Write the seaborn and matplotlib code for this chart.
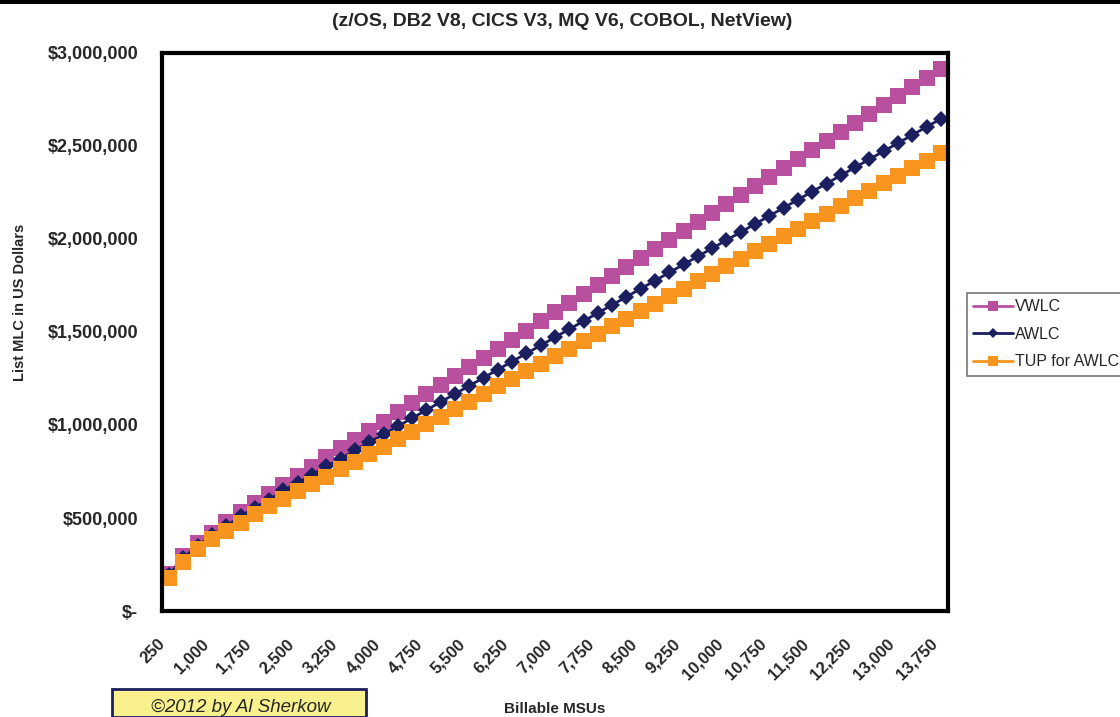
import matplotlib
matplotlib.use("Agg")
import matplotlib.pyplot as plt
import matplotlib.ticker as mticker
from matplotlib.patches import Rectangle
from matplotlib.transforms import ScaledTranslation
import seaborn as sns
import pandas as pd

msus = list(range(250, 13751, 250))

vwlc = [0.200, 0.294, 0.364, 0.421, 0.477, 0.531, 0.581, 0.629, 0.677, 0.726,
        0.776, 0.826, 0.875, 0.921, 0.967, 1.018, 1.068, 1.117, 1.167, 1.217,
        1.265, 1.314, 1.360, 1.409, 1.457, 1.507, 1.558, 1.606, 1.654, 1.703,
        1.751, 1.800, 1.848, 1.897, 1.945, 1.994, 2.042, 2.091, 2.139, 2.188,
        2.236, 2.285, 2.333, 2.382, 2.430, 2.479, 2.527, 2.576, 2.624, 2.673,
        2.721, 2.770, 2.818, 2.867, 2.915]
awlc = [0.195, 0.285, 0.352, 0.406, 0.456, 0.510, 0.555, 0.599, 0.648, 0.687,
        0.732, 0.777, 0.818, 0.863, 0.906, 0.950, 0.993, 1.037, 1.080, 1.124,
        1.167, 1.211, 1.254, 1.298, 1.341, 1.385, 1.428, 1.472, 1.515, 1.559,
        1.602, 1.646, 1.689, 1.733, 1.776, 1.820, 1.863, 1.907, 1.950, 1.994,
        2.037, 2.081, 2.124, 2.168, 2.211, 2.255, 2.298, 2.342, 2.385, 2.429,
        2.472, 2.516, 2.559, 2.603, 2.646]
tup = [0.180, 0.265, 0.332, 0.385, 0.432, 0.475, 0.521, 0.563, 0.604, 0.643,
       0.683, 0.722, 0.762, 0.803, 0.843, 0.884, 0.924, 0.965, 1.005, 1.045,
       1.086, 1.126, 1.167, 1.207, 1.248, 1.288, 1.328, 1.369, 1.409, 1.450,
       1.490, 1.531, 1.571, 1.611, 1.652, 1.692, 1.733, 1.773, 1.814, 1.854,
       1.894, 1.935, 1.975, 2.016, 2.056, 2.097, 2.137, 2.177, 2.218, 2.258,
       2.299, 2.339, 2.380, 2.420, 2.461]

series_names = ["VWLC", "AWLC", "TUP for AWLC"]
title = "(z/OS, DB2 V8, CICS V3, MQ V6, COBOL, NetView)"

df = pd.DataFrame({"MSU": msus,
                   "VWLC": [v * 1e6 for v in vwlc],
                   "AWLC": [v * 1e6 for v in awlc],
                   "TUP for AWLC": [v * 1e6 for v in tup]})

sns.set_style("white")
plt.rcParams["font.family"] = ["Liberation Sans", "DejaVu Sans"]

W, H = 1120, 717
fig = plt.figure(figsize=(W / 100, H / 100), dpi=100)
ax = fig.add_axes([162 / W, 1 - 611 / H, (948 - 162) / W, (611 - 53) / H])

styles = {
    "VWLC": dict(color="#B8509F", marker="s", markersize=12),
    "AWLC": dict(color="#1B1F60", marker="D", markersize=8.5),
    "TUP for AWLC": dict(color="#F7951F", marker="s", markersize=12),
}
for name in series_names:
    st = styles[name]
    sns.lineplot(data=df, x="MSU", y=name, ax=ax, color=st["color"],
                 marker=st["marker"], markersize=st["markersize"],
                 markeredgewidth=0, linewidth=2, label=name)

ax.set_xlim(125, 13875)
ax.set_ylim(0, 3e6)
ax.set_xticks([m - 125 for m in msus] + [msus[-1] + 125], minor=True)
ax.set_xticks(msus[::3])
ax.set_xticklabels([f"{m:,}" for m in msus[::3]], rotation=45, ha="right",
                   va="center", rotation_mode="anchor",
                   fontsize=12, fontweight="bold")
ax.tick_params(axis="x", which="major", length=0, pad=22)
ax.tick_params(axis="x", which="minor", length=6, width=1.2, direction="inout",
               color="black")
ax.set_yticks([0, 5e5, 1e6, 1.5e6, 2e6, 2.5e6, 3e6])
ax.yaxis.set_major_formatter(mticker.FuncFormatter(
    lambda v, p: "$-" if v == 0 else f"${v:,.0f}"))
ax.tick_params(axis="y", length=6, width=1.2, direction="inout", pad=14,
               color="black", labelsize=13)
for lab in ax.get_yticklabels():
    lab.set_fontweight("bold")
for lab in ax.get_xticklabels():
    lab.set_transform(lab.get_transform() +
                      ScaledTranslation(-6 / 100, 0, fig.dpi_scale_trans))

for sp in ax.spines.values():
    sp.set_visible(True)
    sp.set_color("black")
    sp.set_linewidth(3)
ax.set_xlabel("")
ax.set_ylabel("")

fig.text(562 / W, 1 - 21 / H, title, ha="center", va="center",
         fontsize=14, fontweight="bold")
fig.text(20 / W, 1 - 302 / H, "List MLC in US Dollars", rotation=90,
         ha="center", va="center", fontsize=10.5, fontweight="bold")
fig.text(555 / W, 1 - 709 / H, "Billable MSUs", ha="center", va="center",
         fontsize=11, fontweight="bold")

leg = ax.legend(loc="upper left", bbox_to_anchor=(967 / W, 1 - 293 / H),
                bbox_transform=fig.transFigure, frameon=True, fancybox=False,
                edgecolor="#555555", fontsize=11.5, handlelength=2.5,
                handletextpad=0.1, labelspacing=0.78, borderpad=0.4,
                borderaxespad=0, markerscale=0.65)
leg.get_frame().set_linewidth(1.2)

fig.add_artist(Rectangle((112 / W, 0), (366 - 112) / W, (717 - 689) / H,
                         transform=fig.transFigure, facecolor="#F9F18E",
                         edgecolor="#1B1F60", linewidth=2, zorder=5))
fig.text(241 / W, 1 - 708 / H, "\u00a92012 by Al Sherkow", ha="center",
         va="center", fontsize=13.5, fontstyle="italic", zorder=6)
fig.add_artist(Rectangle((0, 1 - 4 / H), 1, 4 / H, transform=fig.transFigure,
                         facecolor="black", edgecolor="none"))

fig.savefig("out.png", dpi=100)
